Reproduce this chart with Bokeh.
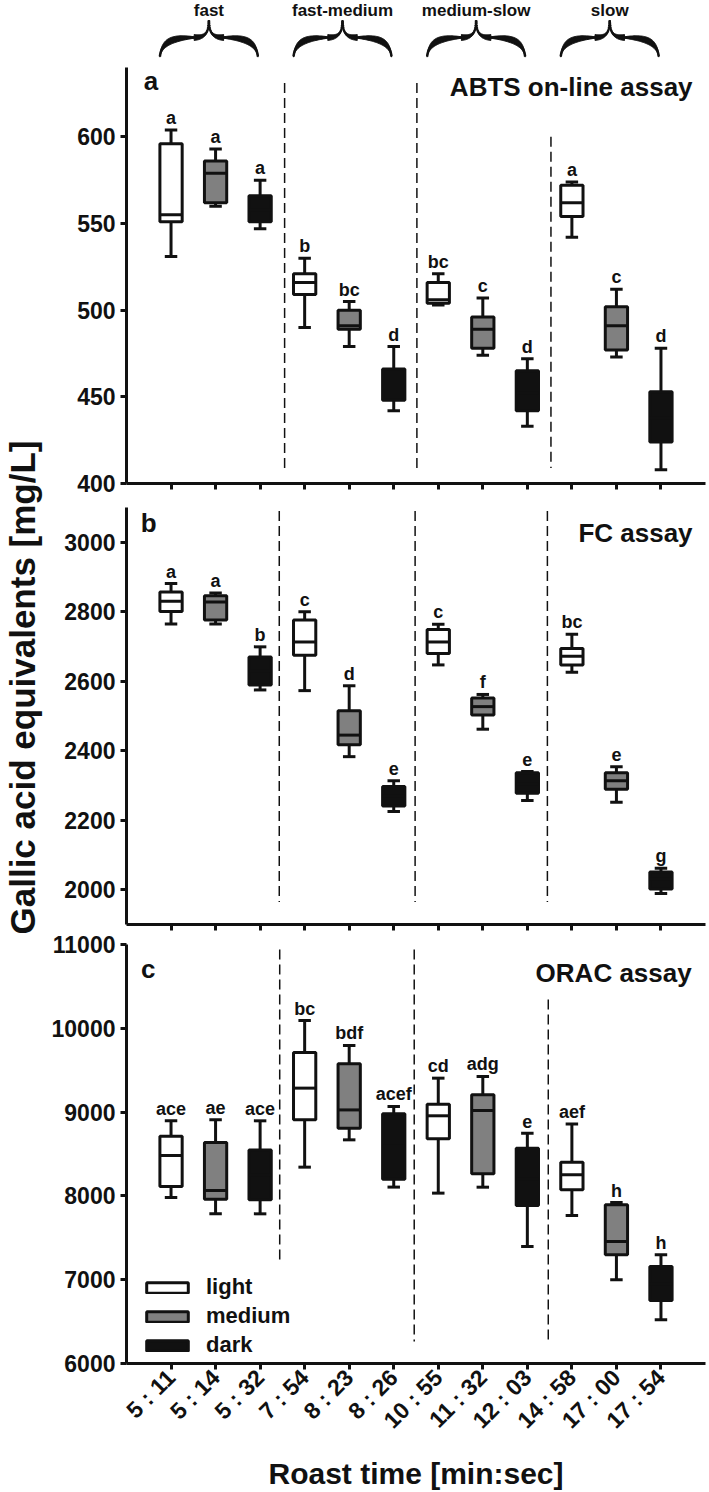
import numpy as np
from math import pi
from bokeh.plotting import figure
from bokeh.layouts import column, row
from bokeh.models import ColumnDataSource, Range1d, FixedTicker, Legend, LegendItem
from bokeh.core.properties import value
from bokeh.embed import file_html
from bokeh.resources import INLINE

# ---------------- data ----------------
times = ["5 : 11", "5 : 14", "5 : 32", "7 : 54", "8 : 23", "8 : 26",
         "10 : 55", "11 : 32", "12 : 03", "14 : 58", "17 : 00", "17 : 54"]
roasts = ["light", "medium", "dark"] * 4
roast_levels = ["light", "medium", "dark"]
groups = ["fast", "fast-medium", "medium-slow", "slow"]

abts_lo = [531, 560, 547, 490, 479, 442, 503, 474, 433, 542, 473, 408]
abts_q1 = [551, 562, 551, 509, 489, 448, 504, 478, 442, 554, 477, 424]
abts_med = [555, 579, 558, 516, 491, 456, 506, 489, 452, 562, 491, 438]
abts_q3 = [596, 586, 566, 521, 500, 466, 516, 496, 465, 572, 502, 453]
abts_hi = [604, 593, 575, 530, 505, 479, 521, 507, 472, 574, 512, 478]
abts_letters = ["a", "a", "a", "b", "bc", "d", "bc", "c", "d", "a", "c", "d"]

fc_lo = [2765, 2765, 2575, 2573, 2383, 2225, 2647, 2462, 2257, 2626, 2252, 1989]
fc_q1 = [2801, 2776, 2589, 2675, 2417, 2241, 2680, 2503, 2278, 2647, 2289, 2002]
fc_med = [2830, 2828, 2630, 2713, 2445, 2270, 2713, 2527, 2305, 2672, 2314, 2030]
fc_q3 = [2857, 2846, 2670, 2776, 2515, 2297, 2749, 2552, 2337, 2694, 2337, 2051]
fc_hi = [2881, 2854, 2699, 2800, 2587, 2314, 2764, 2562, 2340, 2735, 2354, 2062]
fc_letters = ["a", "a", "b", "c", "d", "e", "c", "f", "e", "bc", "e", "g"]

orac_lo = [7981, 7786, 7786, 8343, 8669, 8105, 8033, 8104, 7396, 7766, 6999, 6521]
orac_q1 = [8112, 7961, 7955, 8908, 8808, 8200, 8681, 8263, 7885, 8074, 7297, 6752]
orac_med = [8482, 8064, 8250, 9286, 9026, 8600, 8956, 9019, 8200, 8253, 7456, 6950]
orac_q3 = [8713, 8637, 8549, 9711, 9576, 8980, 9095, 9207, 8568, 8401, 7893, 7158]
orac_hi = [8896, 8908, 8896, 10093, 9795, 9067, 9405, 9425, 8747, 8859, 7921, 7297]
orac_letters = ["ace", "ae", "ace", "bc", "bdf", "acef", "cd", "adg", "e", "aef", "h", "h"]

abts_ticks = [400, 450, 500, 550, 600]
fc_ticks = [2000, 2200, 2400, 2600, 2800, 3000]
orac_ticks = [6000, 7000, 8000, 9000, 10000, 11000]

# ---------------- style ----------------
FONT = value("Liberation Sans")
INK = "#111111"
FILL = {"light": "#ffffff", "medium": "#808080", "dark": INK}
LEFT_W = 48
W = 661
ML, MR = 77, 4
XR = (0, 13)
PAGE_H = 1492


def style_axes(p, show_x_labels):
    p.outline_line_color = None
    p.grid.grid_line_color = None
    for ax in (p.xaxis, p.yaxis):
        ax.axis_line_width = 3
        ax.axis_line_color = INK
        ax.major_tick_line_width = 3
        ax.major_tick_line_color = INK
        ax.major_tick_in = 0
        ax.major_tick_out = 6
        ax.minor_tick_line_color = None
        ax.major_label_text_font = "Liberation Sans"
        ax.major_label_text_font_style = "bold"
        ax.major_label_text_font_size = "23px"
        ax.major_label_text_color = INK
    p.yaxis.major_label_standoff = 5
    p.xaxis.ticker = FixedTicker(ticks=list(range(1, 13)))
    if not show_x_labels:
        p.xaxis.major_label_overrides = {i: "" for i in range(1, 13)}
        p.xaxis.major_label_text_font_size = "1px"
        p.xaxis.major_label_standoff = 0


def panel(lo, q1, med, q3, hi, letters, ticks, yr, height, bt, bb,
          letter_xy, letter, title_xy, title, dashes, show_x=False):
    p = figure(width=W, height=height, x_range=Range1d(*XR), y_range=Range1d(*yr),
               output_backend="svg", toolbar_location=None,
               min_border_left=ML, min_border_right=MR,
               min_border_top=bt, min_border_bottom=bb)
    style_axes(p, show_x)
    p.yaxis.ticker = FixedTicker(ticks=ticks)
    x = np.arange(1, 13)
    src = ColumnDataSource(dict(
        x=x, lo=lo, q1=q1, med=med, q3=q3, hi=hi, lab=letters,
        roast=roasts, fill=[FILL[r] for r in roasts],
        xl=x - 0.14, xr=x + 0.14, ml=x - 0.25, mr=x + 0.25))
    # dashed group separators
    p.segment(x0=[d[0] for d in dashes], y0=[d[1] for d in dashes],
              x1=[d[0] for d in dashes], y1=[d[2] for d in dashes],
              line_color=INK, line_width=1.5, line_dash="10 5")
    # whiskers and caps
    kw = dict(source=src, line_color=INK, line_width=3)
    p.segment(x0="x", y0="q3", x1="x", y1="hi", **kw)
    p.segment(x0="x", y0="q1", x1="x", y1="lo", **kw)
    p.segment(x0="xl", y0="hi", x1="xr", y1="hi", **kw)
    p.segment(x0="xl", y0="lo", x1="xr", y1="lo", **kw)
    # boxes
    boxes = p.vbar(x="x", width=0.5, bottom="q1", top="q3", fill_color="fill", **kw)
    # medians
    p.segment(x0="ml", y0="med", x1="mr", y1="med", **kw)
    # significance letters
    p.text(x="x", y="hi", text="lab", source=src, y_offset=-12,
           text_align="center", text_baseline="alphabetic", text_font=FONT,
           text_font_style="bold", text_font_size="18px", text_color=INK)
    # panel letter and title
    p.text(x=[letter_xy[0]], y=[letter_xy[1]], text=[letter], text_align="center",
           text_baseline="middle", text_font=FONT, text_font_style="bold",
           text_font_size="26px", text_color=INK)
    p.text(x=[title_xy[0]], y=[title_xy[1]], text=[title], text_align="right",
           text_baseline="middle", text_font=FONT, text_font_style="bold",
           text_font_size="26px", text_color=INK)
    return p, boxes


# panel a: frame 67..483, panel b: frame 507..924, panel c: frame 944..1363
pa, _ = panel(abts_lo, abts_q1, abts_med, abts_q3, abts_hi, abts_letters, abts_ticks,
              (400, 640), 440, 0, 24, (0.55, 632), "a", (12.71, 629), "ABTS on-line assay",
              [(3.55, 631, 409), (6.52, 631, 409), (9.53, 600, 409)])
pb, _ = panel(fc_lo, fc_q1, fc_med, fc_q3, fc_hi, fc_letters, fc_ticks,
              (1900, 3100), 424, 0, 7, (0.50, 3054), "b", (12.71, 3026), "FC assay",
              [(3.43, 3090, 1965), (6.48, 3090, 1965), (9.45, 3090, 1965)])
pc, pc_boxes = panel(orac_lo, orac_q1, orac_med, orac_q3, orac_hi, orac_letters, orac_ticks,
                     (6000, 11000), 522, 13, 90, (0.49, 10702), "c", (12.69, 10654),
                     "ORAC assay",
                     [(3.44, 10940, 7196), (6.46, 10940, 6263), (9.47, 10344, 6263)],
                     show_x=True)

pc.xaxis.major_label_overrides = {i + 1: t for i, t in enumerate(times)}
pc.xaxis.major_label_orientation = pi / 4
pc.xaxis.major_label_standoff = 4

lg = Legend(items=[LegendItem(label=r, renderers=[pc_boxes], index=i)
                   for i, r in enumerate(roast_levels)])
lg.location = (15, 5)
lg.orientation = "vertical"
lg.border_line_color = None
lg.background_fill_alpha = 0
lg.padding = 0
lg.margin = 0
lg.spacing = 3
lg.glyph_width = 52
lg.glyph_height = 13
lg.label_standoff = 13
lg.label_text_font = "Liberation Sans"
lg.label_text_font_style = "bold"
lg.label_text_font_size = "22px"
lg.label_text_color = INK
pc.add_layout(lg)


def strip(height):
    f = figure(width=W, height=height, x_range=Range1d(*XR), y_range=Range1d(height, 0),
               x_axis_type=None, y_axis_type=None, output_backend="svg",
               toolbar_location=None, min_border_left=ML, min_border_right=MR,
               min_border_top=0, min_border_bottom=0)
    f.outline_line_color = None
    f.grid.grid_line_color = None
    return f


# ---------------- top strip with braces (y in page pixels) ----------------
top = strip(67)


def bez(p0, p1, p2, p3, n=50):
    t = np.linspace(0, 1, n)[:, None]
    p0, p1, p2, p3 = map(np.asarray, (p0, p1, p2, p3))
    return (1 - t) ** 3 * p0 + 3 * (1 - t) ** 2 * t * p1 + 3 * (1 - t) * t ** 2 * p2 + t ** 3 * p3


xs, ys, lxs, lys = [], [], [], []
centers = [np.mean(np.arange(1, 13)[3 * g:3 * g + 3]) - 0.15 for g in range(len(groups))]
for c in centers:
    w = 1.1
    yend, ysh, ytip = 56, 37, 20
    A = bez((c - w, yend), (c - 0.97 * w, 43), (c - 0.8 * w, ysh), (c - 0.3 * w, ysh))
    B = bez((c - 0.3 * w, ysh), (c - 0.08 * w, ysh), (c - 0.01 * w, ysh - 4), (c, ytip))
    tA = np.linspace(0, 1, len(A))
    hA = 0.6 + 2.8 * np.sin(pi * tA) ** 0.8
    hB = 0.4 + 2.6 * (1 - np.linspace(0, 1, len(B))) ** 1.5
    for sgn in (1, -1):
        for arm, h in ((A, hA), (B, hB)):
            ax_ = c + sgn * (arm[:, 0] - c)
            ay_ = arm[:, 1]
            xs.append(list(ax_) + list(ax_[::-1]))
            ys.append(list(ay_ - h) + list((ay_ + h)[::-1]))
            lxs.append(list(ax_))
            lys.append(list(ay_))
top.patches(xs, ys, fill_color=INK, line_color=INK, line_width=1)
top.multi_line(lxs, lys, line_color=INK, line_width=2.5)
top.text(x=centers, y=[10] * len(groups), text=groups, text_align="center",
         text_baseline="middle", text_font=FONT, text_font_style="bold",
         text_font_size="17px", text_color=INK)

# ---------------- bottom strip with x title ----------------
bottom = strip(39)
bottom.text(x=[np.mean(XR)], y=[20], text=["Roast time [min:sec]"], text_align="center",
            text_baseline="middle", text_font=FONT, text_font_style="bold",
            text_font_size="30px", text_color=INK)

# ---------------- left strip with y title (y in page pixels) ----------------
left = figure(width=LEFT_W, height=PAGE_H, x_range=Range1d(0, LEFT_W),
              y_range=Range1d(PAGE_H, 0), x_axis_type=None, y_axis_type=None,
              output_backend="svg", toolbar_location=None, min_border=0)
left.outline_line_color = None
left.grid.grid_line_color = None
left.text(x=[22], y=[687], text=["Gallic acid equivalents [mg/L]"], angle=pi / 2,
          text_align="center", text_baseline="middle", text_font=FONT,
          text_font_style="bold", text_font_size="35px", text_color=INK)

layout = row(left, column(top, pa, pb, pc, bottom, spacing=0), spacing=0)
open("out.html", "w").write(file_html(layout, INLINE))
